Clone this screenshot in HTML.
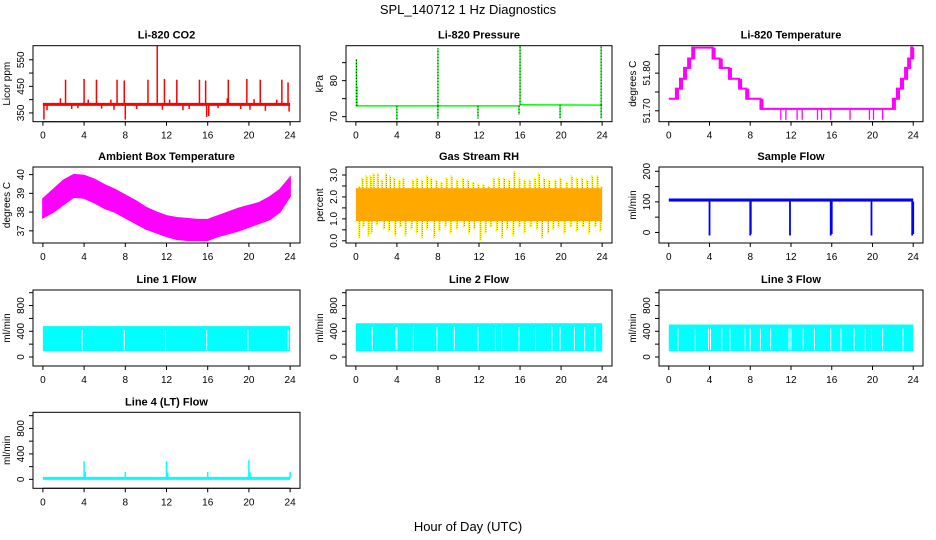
<!DOCTYPE html>
<html><head><meta charset="utf-8"><style>
html,body{margin:0;padding:0;background:#fff;}
svg{display:block;font-family:"Liberation Sans",Arial,sans-serif;}
</style></head><body>
<svg id="chart" width="936" height="540" viewBox="0 0 936 540" xmlns="http://www.w3.org/2000/svg">
<text x="468" y="14" text-anchor="middle" font-size="13">SPL_140712  1 Hz Diagnostics</text>
<text x="468" y="531" text-anchor="middle" font-size="13">Hour of Day (UTC)</text>
</svg>
<script>
// ---- data ----
const xTicks = [0,4,8,12,16,20,24];
const co2Base = 382;
const co2SpikeHours = [2.2,4.0,5.2,7.2,7.9,10.2,11.1,11.8,13.0,15.2,15.8,18.0,19.8,21.1,23.2,23.8,1.7,4.4,6.6,12.3,17.9,20.5,22.7,0.1,0.4,2.8,3.4,5.7,6.9,8.0,9.1,11.6,13.6,14.2,15.9,16.1,17.0,19.2,20.1,21.6,23.9];
const co2SpikeVals = [475,478,475,475,472,475,603,478,475,475,472,475,478,475,475,465,405,400,400,400,405,402,400,325,360,365,368,366,362,325,365,362,360,365,335,338,368,365,362,358,355];
const presSegHours = [0,16,16,24];
const presSegVals = [73.0,73.0,73.3,73.2];
const presSpikeHours = [0.05,0.1,4.0,8.0,8.0,11.9,15.9,16.0,19.9,23.9,23.9];
const presSpikeVals = [86,78.5,69,89,69.5,69.5,70.5,89.7,69.5,89.5,69.5];
const ltHours = [0,0.7,1.1,1.5,1.9,2.3,4.3,5.0,5.9,6.9,7.6,9.0,22.0,22.4,22.8,23.2,23.5,23.8,24];
const ltVals = [51.732,51.759,51.785,51.814,51.839,51.868,51.839,51.814,51.785,51.759,51.732,51.705,51.732,51.759,51.785,51.814,51.839,51.868,51.868];
const ltDipHours = [0.1,7.4,7.9,11.0,11.5,12.6,13.1,14.6,15.0,15.9,17.8,19.7,20.1,21.0];
const ltDipVals = [51.705,51.705,51.705,51.676,51.676,51.676,51.676,51.676,51.676,51.676,51.676,51.676,51.676,51.676];
const ambHours = [0,1,2,3,4,5,6,7,8,9,10,11,12,13,14,15,16,17,18,19,20,21,22,23,24];
const ambHi = [38.7,39.2,39.7,40.0,39.95,39.75,39.45,39.2,38.9,38.6,38.25,38.0,37.8,37.7,37.65,37.6,37.6,37.8,38.0,38.2,38.35,38.5,38.8,39.2,39.85];
const ambLo = [37.7,38.0,38.4,38.8,38.75,38.5,38.2,38.0,37.7,37.4,37.1,36.9,36.7,36.55,36.5,36.5,36.5,36.7,36.85,37.0,37.2,37.4,37.6,38.0,38.85];
const rhLo = 0.9, rhHi = 2.4;
const rhUpHours = [0.3,0.6,1.0,1.4,1.7,2.1,2.5,2.9,3.3,3.7,4.2,4.6,5.1,5.5,5.9,6.4,6.9,7.3,7.8,8.3,8.8,9.3,9.8,10.4,10.9,11.4,11.9,12.4,12.9,13.4,13.9,14.4,14.9,15.4,15.9,16.4,16.9,17.4,17.8,18.3,18.8,19.4,19.9,20.5,21.0,21.5,22.0,22.5,23.0,23.5,23.9];
const rhUpVals = [2.5,2.9,3.0,3.0,3.1,3.1,2.8,3.1,3.0,2.9,2.8,2.9,2.4,2.8,2.9,2.8,3.0,2.9,2.8,2.7,2.9,3.0,2.8,2.9,2.8,2.7,2.6,2.6,2.5,2.9,2.9,2.9,2.8,3.2,2.9,2.8,2.8,2.9,3.1,2.9,2.8,2.8,2.9,2.7,3.0,2.9,2.9,2.8,3.0,3.0,2.5];
const rhDnHours = [0.3,0.7,1.2,1.5,2.0,2.7,3.2,3.8,4.3,4.8,5.4,5.9,6.4,6.9,7.6,8.1,8.7,9.2,9.8,10.5,11.0,11.5,12.1,12.6,13.1,13.7,14.2,14.7,15.3,15.9,16.4,17.0,17.6,18.1,18.7,19.2,19.7,20.3,20.9,21.5,22.1,22.7,23.3,23.8];
const rhDnVals = [0.1,0.6,0.2,0.3,0.7,0.5,0.4,0.2,0.6,0.2,0.5,0.3,0.1,0.5,0.1,0.4,0.6,0.3,0.5,0.6,0.3,0.5,0.0,0.3,0.6,0.4,0.1,0.5,0.2,0.6,0.3,0.6,0.5,0.1,0.3,0.5,0.6,0.3,0.6,0.4,0.6,0.3,0.6,0.4];
const sfLo = 101, sfHi = 111;
const sfDipHours = [4.0,8.0,8.05,11.9,15.9,16.0,19.9,23.9,24.0];
const sfDipVals = [-10,-10,-5,-10,-10,-5,-10,-10,-5];
const l1Lo = 90, l1Hi = 480;
const l1Gaps = [3.8,7.9,11.9,15.9,19.9,23.8];
const l2Lo = 90, l2Hi = 525;
const l2Gaps = [1.6,3.9,4.0,5.6,7.9,9.6,11.9,13.6,14.2,15.9,17.5,19.1,19.9,21.3,22.3,23.3];
const l3Lo = 90, l3Hi = 505;
const l3Gaps = [0.9,2.6,3.9,4.1,5.2,6.0,7.5,8.0,9.0,10.0,11.8,12.0,13.2,14.3,15.9,16.9,18.2,19.3,19.9,21.0,23.0];
const l4Base = 15;
const l4SpikeHours = [4.0,4.1,8.0,12.0,12.1,16.0,20.0,20.1,24.0];
const l4SpikeVals = [285,120,115,285,110,115,300,110,115];

// ---- layout ----
const NS = 'http://www.w3.org/2000/svg';
const svg = document.getElementById('chart');
const cols = [[33,300],[346,612],[659,923]];
const rowTops = [45.7,167,290,412.3];
const BH = 76;

function mk(parent, tag, attrs, name) {
  const el = document.createElementNS(NS, tag);
  for (const k in attrs) el.setAttribute(k, attrs[k]);
  
  
  parent.appendChild(el);
  return el;
}

function panel(ci, ri, key, title, ydom, yticks, ylabels, ylab) {
  const [x0, x1] = cols[ci];
  const y0 = rowTops[ri], y1 = y0 + BH;
  const g = mk(svg, 'g', {}, key + '-panel');
  const sx = h => x0 + (h + 0.96) / 25.92 * (x1 - x0);
  const sy = v => y1 - (v - ydom[0]) / (ydom[1] - ydom[0]) * BH;
  const data = mk(g, 'g', {}, key + '-series');
  mk(g, 'rect', {x: x0, y: y0, width: x1 - x0, height: BH, fill: 'none', stroke: '#000', 'stroke-width': 1}, key + '-frame');
  const t = mk(g, 'text', {x: (x0 + x1) / 2, y: y0 - 7, 'text-anchor': 'middle', 'font-size': 11, 'font-weight': 'bold'}, key + '-title');
  t.textContent = title;
  const xa = mk(g, 'g', {}, key + '-x-axis');
  mk(xa, 'line', {x1: sx(0), x2: sx(24), y1: y1, y2: y1, stroke: '#000'}, 'x-axis-line');
  xTicks.forEach(h => {
    mk(xa, 'line', {x1: sx(h), x2: sx(h), y1: y1, y2: y1 + 4, stroke: '#000'}, 'x-tick');
    const tl = mk(xa, 'text', {x: sx(h), y: y1 + 17, 'text-anchor': 'middle', 'font-size': 10}, 'x-tick-label');
    tl.textContent = h;
  });
  const ya = mk(g, 'g', {}, key + '-y-axis');
  mk(ya, 'line', {x1: x0, x2: x0, y1: sy(yticks[0]), y2: sy(yticks[yticks.length - 1]), stroke: '#000'}, 'y-axis-line');
  yticks.forEach(v => mk(ya, 'line', {x1: x0 - 4, x2: x0, y1: sy(v), y2: sy(v), stroke: '#000'}, 'y-tick'));
  ylabels.forEach(l => {
    const yy = sy(parseFloat(l));
    const tl = mk(ya, 'text', {x: x0 - 9, y: yy, 'text-anchor': 'middle', 'font-size': 10, transform: `rotate(-90 ${x0 - 9} ${yy})`}, 'y-tick-label');
    tl.textContent = l;
  });
  const lx = x0 - 23, ly = (y0 + y1) / 2;
  const yl = mk(g, 'text', {x: lx, y: ly, 'text-anchor': 'middle', 'font-size': 10, transform: `rotate(-90 ${lx} ${ly})`}, key + '-y-axis-title');
  yl.textContent = ylab;
  return {sx, sy, g: data};
}

function vline(p, g, h, a, b, color, w, name, dash) {
  const at = {x1: p.sx(h), x2: p.sx(h), y1: p.sy(a), y2: p.sy(b), stroke: color, 'stroke-width': w};
  if (dash) at['stroke-dasharray'] = dash;
  return mk(g, 'line', at, name);
}

// CO2
let p = panel(0, 0, 'co2', 'Li-820 CO2', [317, 603], [350,400,450,500,550], ['350','450','550'], 'Licor ppm');
co2SpikeHours.forEach((h, i) => vline(p, p.g, h, co2Base, co2SpikeVals[i], '#ff0000', 1.5, 'co2-spike'));
mk(p.g, 'line', {x1: p.sx(0), x2: p.sx(24), y1: p.sy(co2Base), y2: p.sy(co2Base), stroke: '#ff0000', 'stroke-width': 3}, 'co2-line');

// Pressure
p = panel(1, 0, 'pressure', 'Li-820 Pressure', [68.6, 89.7], [70,75,80,85], ['70','80'], 'kPa');
for (let i = 0; i < presSegHours.length; i += 2) {
  mk(p.g, 'line', {x1: p.sx(presSegHours[i]), x2: p.sx(presSegHours[i+1]), y1: p.sy(presSegVals[i]), y2: p.sy(presSegVals[i+1]), stroke: '#00ff00', 'stroke-width': 1.5}, 'pressure-line');
}
presSpikeHours.forEach((h, i) => {
  const base = h >= 16 ? presSegVals[2] : presSegVals[0];
  vline(p, p.g, h, base, presSpikeVals[i], '#00ff00', 1.3, 'pressure-spike');
  vline(p, p.g, h, base, presSpikeVals[i], '#000', 1, 'pressure-spike-dots', '1 2');
});

// Li temp
p = panel(2, 0, 'li-temp', 'Li-820 Temperature', [51.671, 51.873], [51.70,51.75,51.80,51.85], ['51.70','51.80'], 'degrees C');
let d = '';
ltHours.forEach((h, i) => {
  if (i === 0) d += `M${p.sx(h)},${p.sy(ltVals[i])}`;
  else d += `H${p.sx(h)}V${p.sy(ltVals[i])}`;
});
mk(p.g, 'path', {d: d, fill: 'none', stroke: '#ff00ff', 'stroke-width': 2}, 'li-temp-line');
for (let i = 1; i < ltHours.length - 1; i++) {
  const a = p.sy(ltVals[i-1]), b = p.sy(ltVals[i]);
  mk(p.g, 'rect', {x: p.sx(ltHours[i]), y: Math.min(a, b), width: p.sx(0.3) - p.sx(0), height: Math.abs(a - b) + 1, fill: '#ff00ff'}, 'li-temp-transition');
}
ltDipHours.forEach((h, i) => vline(p, p.g, h, 51.705, ltDipVals[i], '#ff00ff', 1.3, 'li-temp-dip'));

// Ambient
p = panel(0, 1, 'ambient', 'Ambient Box Temperature', [36.35, 40.405], [37,38,39,40], ['37','38','39','40'], 'degrees C');
let pts = ambHours.map((h, i) => `${p.sx(h)},${p.sy(ambHi[i])}`).concat(ambHours.slice().reverse().map((h, j) => `${p.sx(h)},${p.sy(ambLo[ambHours.length - 1 - j])}`));
mk(p.g, 'polygon', {points: pts.join(' '), fill: '#ff00ff', stroke: '#ff00ff', 'stroke-width': 1.5}, 'ambient-band');

// RH
p = panel(1, 1, 'rh', 'Gas Stream RH', [-0.10, 3.365], [0,0.5,1,1.5,2,2.5,3], ['0.0','1.0','2.0','3.0'], 'percent');
rhUpHours.forEach((h, i) => { vline(p, p.g, h, rhHi, rhUpVals[i], '#ffff00', 1.5, 'rh-spike-up'); vline(p, p.g, h + 0.08, rhHi, rhUpVals[i] - 0.05, '#ff5000', 1, 'rh-spike-up-dots', '1 1'); });
rhDnHours.forEach((h, i) => { vline(p, p.g, h, rhLo, rhDnVals[i], '#ffff00', 1.5, 'rh-spike-down'); vline(p, p.g, h + 0.08, rhLo, rhDnVals[i] + 0.05, '#ff5000', 1, 'rh-spike-down-dots', '1 1'); });
mk(p.g, 'rect', {x: p.sx(0), y: p.sy(rhHi), width: p.sx(24) - p.sx(0), height: p.sy(rhLo) - p.sy(rhHi), fill: '#ffa800'}, 'rh-band');

// Sample flow
p = panel(2, 1, 'sample-flow', 'Sample Flow', [-34.5, 214], [0,50,100,150,200], ['0','100','200'], 'ml/min');
mk(p.g, 'rect', {x: p.sx(0), y: p.sy(sfHi), width: p.sx(24) - p.sx(0), height: p.sy(sfLo) - p.sy(sfHi), fill: '#0000ff'}, 'sample-flow-band');
sfDipHours.forEach((h, i) => vline(p, p.g, h, sfLo, sfDipVals[i], '#0000ff', 1.8, 'sample-flow-dip'));

// Line flows
function flowPanel(ci, ri, key, title, lo, hi, gaps, ydom) {
  const q = panel(ci, ri, key, title, ydom, [0,200,400,600,800,1000], ['0','400','800'], 'ml/min');
  mk(q.g, 'rect', {x: q.sx(0), y: q.sy(hi), width: q.sx(24) - q.sx(0), height: q.sy(lo) - q.sy(hi), fill: '#00ffff'}, key + '-band');
  gaps.forEach(h => vline(q, q.g, h, lo + 20, hi - 60, '#ffffff', 1, key + '-gap'));
  return q;
}
flowPanel(0, 2, 'line1-flow', 'Line 1 Flow', l1Lo, l1Hi, l1Gaps, [-140, 1042]);
flowPanel(1, 2, 'line2-flow', 'Line 2 Flow', l2Lo, l2Hi, l2Gaps, [-140, 1042]);
flowPanel(2, 2, 'line3-flow', 'Line 3 Flow', l3Lo, l3Hi, l3Gaps, [-140, 1042]);

// Line 4
p = panel(0, 3, 'line4-flow', 'Line 4 (LT) Flow', [-140, 1053], [0,200,400,600,800,1000], ['0','400','800'], 'ml/min');
mk(p.g, 'line', {x1: p.sx(0), x2: p.sx(24), y1: p.sy(l4Base), y2: p.sy(l4Base), stroke: '#00ffff', 'stroke-width': 3}, 'line4-flow-line');
l4SpikeHours.forEach((h, i) => vline(p, p.g, h, l4Base, l4SpikeVals[i], '#00ffff', 1.5, 'line4-flow-spike'));
</script>
</body></html>
